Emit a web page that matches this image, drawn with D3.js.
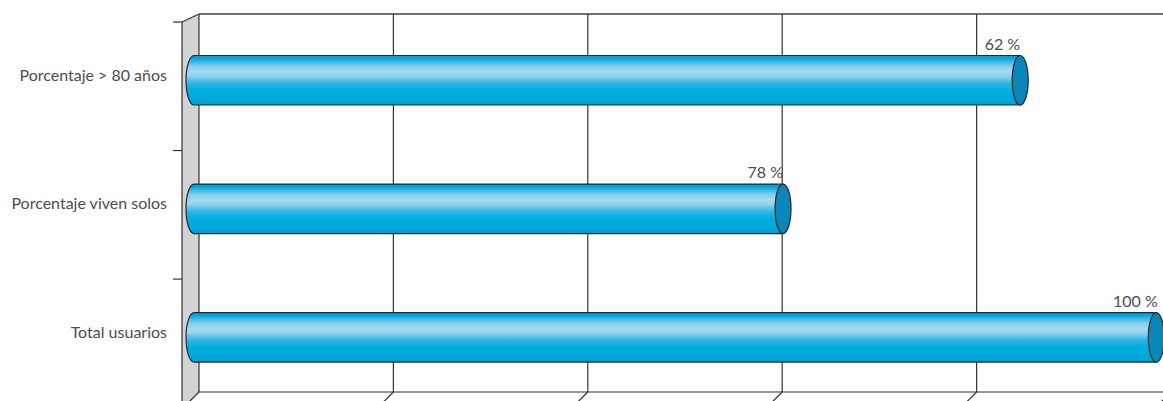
<!DOCTYPE html>
<html><head><meta charset="utf-8">
<script src="https://cdn.jsdelivr.net/npm/d3@7"></script>
<style>
html,body{margin:0;padding:0;background:#fff;}
svg{display:block;}
text{font-family:Lato,"Open Sans",sans-serif;font-weight:400;fill:#4d4d4d;}
</style></head>
<body>
<script>
const categories = ["Porcentaje > 80 años", "Porcentaje viven solos", "Total usuarios"];
const values = [425, 303, 495];
const valueLabels = ["62 %", "78 %", "100 %"];
const gridTicks = [0, 100, 200, 300, 400, 500];

const W = 1163, H = 401;
const wallLeft = 199, wallTop = 14, wallBottom = 392;
const depthX = 17, depthY = 8;
const barShift = -5;      // bars sit midway in depth
const barH = 49.5, capRx = 8;

const svg = d3.select("body").append("svg").attr("width", W).attr("height", H);

const x = d3.scaleLinear().domain([0, 500]).range([wallLeft, wallLeft + 972]);
const y = d3.scaleBand().domain(categories).range([wallTop + depthY, 407.6]).paddingInner(0).paddingOuter(0);

// gradient
const defs = svg.append("defs");
const g = defs.append("linearGradient").attr("id", "cyl").attr("x1", 0).attr("y1", 0).attr("x2", 0).attr("y2", 1);
[[0, "#0096cc"], [0.06, "#00a8de"], [0.2, "#7ccaeb"], [0.32, "#a6dbf2"], [0.42, "#8dd1ee"],
 [0.56, "#2db5e3"], [0.7, "#00aee0"], [0.88, "#00a8dc"], [1, "#009dd2"]]
  .forEach(([o, c]) => g.append("stop").attr("offset", o).attr("stop-color", c));

// side wall
svg.append("path")
  .attr("d", `M${wallLeft - depthX},${wallTop + depthY} L${wallLeft},${wallTop} L${wallLeft},${wallBottom} L${wallLeft - 10},${wallBottom + 10} L${wallLeft - depthX},${wallBottom + 10} Z`)
  .attr("fill", "#d2d3d5").attr("stroke", "none");
svg.append("line").attr("x1", wallLeft - depthX).attr("x2", wallLeft - depthX)
  .attr("y1", wallTop + depthY).attr("y2", H + 2).attr("stroke", "#333").attr("stroke-width", 1.2);
svg.append("line").attr("x1", wallLeft - depthX).attr("y1", wallTop + depthY)
  .attr("x2", wallLeft).attr("y2", wallTop).attr("stroke", "#333").attr("stroke-width", 1.2);

// back wall top / bottom lines
svg.append("line").attr("x1", wallLeft).attr("x2", W).attr("y1", wallTop).attr("y2", wallTop)
  .attr("stroke", "#444").attr("stroke-width", 1.6);
svg.append("line").attr("x1", wallLeft).attr("x2", W).attr("y1", wallBottom).attr("y2", wallBottom)
  .attr("stroke", "#333").attr("stroke-width", 1.2);

// gridlines + floor diagonals
const grid = svg.append("g");
gridTicks.forEach(t => {
  const gx = x(t);
  grid.append("line").attr("x1", gx).attr("x2", gx).attr("y1", wallTop).attr("y2", wallBottom)
    .attr("stroke", "#333").attr("stroke-width", 1.2);
  grid.append("line").attr("x1", gx).attr("y1", wallBottom).attr("x2", gx - 10).attr("y2", wallBottom + 10)
    .attr("stroke", "#333").attr("stroke-width", 1.2);
});

// y ticks on front edge
const yTicks = categories.map(c => y(c)).concat([y(categories[categories.length - 1]) + y.bandwidth()]);
yTicks.forEach(t => {
  svg.append("line").attr("x1", wallLeft - depthX - 9).attr("x2", wallLeft - depthX)
    .attr("y1", t).attr("y2", t).attr("stroke", "#333").attr("stroke-width", 1.2);
});

// category labels
svg.append("g").selectAll("text").data(categories).join("text")
  .attr("x", 167)
  .attr("y", d => y(d) + y.bandwidth() / 2 - 11)
  .attr("dy", "0.35em")
  .attr("text-anchor", "end")
  .style("font-size", "16px")
  .text(d => d);

// bars
const bars = svg.append("g").selectAll("g").data(categories).join("g");
bars.each(function (c, i) {
  const sel = d3.select(this);
  const cy = y(c) + y.bandwidth() / 2 - 6;
  const top = cy - barH / 2, bot = cy + barH / 2;
  const x0 = x(0) + barShift, x1 = x(values[i]) + barShift;
  sel.append("path")
    .attr("d", `M${x0},${top} L${x1},${top} L${x1},${bot} L${x0},${bot} A${capRx},${barH / 2} 0 0 1 ${x0},${top} Z`)
    .attr("fill", "url(#cyl)").attr("stroke", "#2a2a2a").attr("stroke-width", 1.2);
  sel.append("ellipse").attr("cx", x1).attr("cy", cy).attr("rx", capRx).attr("ry", barH / 2)
    .attr("fill", "#0a86b8").attr("stroke", "#2a2a2a").attr("stroke-width", 1.2);
  sel.append("text").attr("x", x1 + (i === 2 ? 1.5 : 0)).attr("y", top - 6)
    .attr("text-anchor", "end").style("font-size", "16px").text(valueLabels[i]);
});
</script>
</body></html>
